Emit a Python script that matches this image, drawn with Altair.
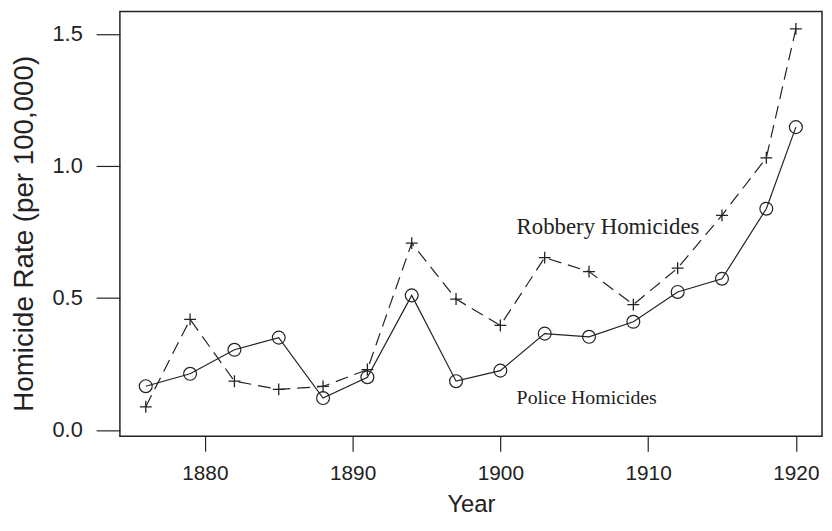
import altair as alt
import pandas as pd

years = [1876, 1879, 1882, 1885, 1888, 1891, 1894, 1897, 1900, 1903, 1906, 1909, 1912, 1915, 1918, 1920]
police = [0.166, 0.213, 0.304, 0.350, 0.121, 0.200, 0.510, 0.185, 0.225, 0.365, 0.353, 0.410, 0.523, 0.573, 0.838, 1.147]
robbery = [0.088, 0.419, 0.185, 0.154, 0.165, 0.229, 0.708, 0.496, 0.396, 0.653, 0.600, 0.475, 0.613, 0.813, 1.031, 1.519]

label_texts = ["Robbery Homicides", "Police Homicides"]
label_years = [1901.1, 1901.1]
label_values = [0.744, 0.100]

x_ticks = [1880, 1890, 1900, 1910, 1920]
y_ticks = [0.0, 0.5, 1.0, 1.5]

df_p = pd.DataFrame({"year": years, "value": police})
df_r = pd.DataFrame({"year": years, "value": robbery})
df_l = pd.DataFrame({"year": label_years, "value": label_values, "text": label_texts})

INK = "#222222"
SANS = "Liberation Sans"
SERIF = "Liberation Serif"

xs = alt.Scale(domain=[1874.25, 1921.77], nice=False, zero=False)
ys = alt.Scale(domain=[-0.0237, 1.585], nice=False, zero=False)

xaxis = alt.Axis(values=x_ticks, format="d", tickSize=15, labelPadding=12, labelFontSize=21,
                 labelFont=SANS, labelColor=INK, domain=False, grid=False, tickColor=INK,
                 tickWidth=1.2, title="Year", titleFont=SANS, titleFontSize=24,
                 titleFontWeight="normal", titleColor=INK, titleY=76, titleBaseline="alphabetic")
yaxis = alt.Axis(values=y_ticks, format=".1f", tickSize=24, labelPadding=14, labelFontSize=22,
                 labelFont=SANS, labelColor=INK, domain=False, grid=False, tickColor=INK,
                 tickWidth=1.2, title="Homicide Rate (per 100,000)", titleFont=SANS,
                 titleFontSize=28, titleFontWeight="normal", titleColor=INK, titleX=-88,
                 titleY=224, titleAngle=-90, titleBaseline="alphabetic", titleAlign="center")

X = alt.X("year:Q", scale=xs, axis=xaxis)
Y = alt.Y("value:Q", scale=ys, axis=yaxis)

police_line = alt.Chart(df_p).mark_line(color=INK, strokeWidth=1.2).encode(x=X, y=Y)
police_pts = alt.Chart(df_p).mark_point(shape="circle", filled=False, size=169, color=INK,
                                        strokeWidth=1.2, opacity=1).encode(x=X, y=Y)
rob_line = alt.Chart(df_r).mark_line(color=INK, strokeWidth=1.2, strokeDash=[13, 7]).encode(x=X, y=Y)
rob_pts = alt.Chart(df_r).mark_point(shape="M-1,0H1M0,-1V1", filled=False, size=144, color=INK,
                                     strokeWidth=1.3, opacity=1).encode(x=X, y=Y)

labels = alt.Chart(df_l).mark_text(font=SERIF, align="left", baseline="alphabetic",
                                   color=INK).encode(
    x=alt.X("year:Q", scale=xs),
    y=alt.Y("value:Q", scale=ys),
    text="text:N",
    size=alt.condition(alt.datum.text == "Robbery Homicides", alt.value(23), alt.value(20)),
)

chart = alt.layer(rob_line, police_line, rob_pts, police_pts, labels).properties(
    width=709, height=429,
    padding={"left": 113, "top": 1, "right": 2, "bottom": 80},
    autosize=alt.AutoSizeParams(type="none"),
    background="white",
).configure_view(stroke=INK, strokeWidth=1.5)

chart.save("out.html", embed_options={"renderer": "svg", "actions": False})
